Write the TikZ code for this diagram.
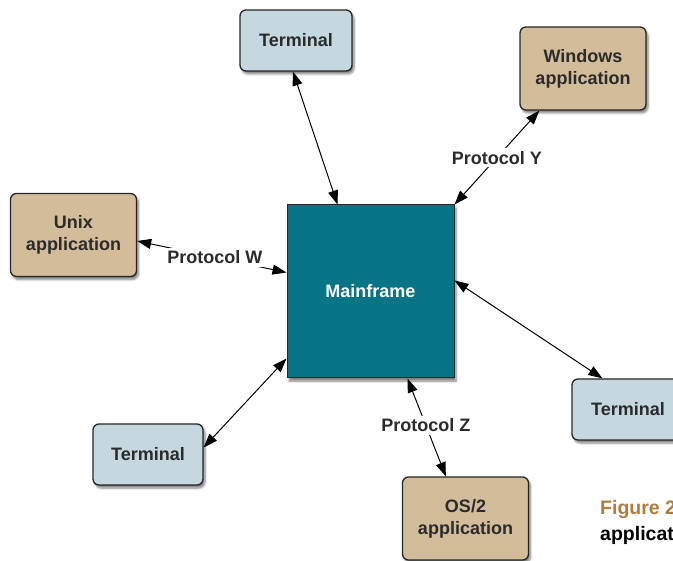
\documentclass[tikz,border=0pt]{standalone}
\usepackage{fontspec}
\setmainfont{Liberation Sans}
\usetikzlibrary{arrows.meta,shadows.blur}
\definecolor{termblue}{HTML}{C5D7DF}
\definecolor{apptan}{HTML}{D3BC9A}
\definecolor{mainteal}{HTML}{087587}
\definecolor{figbrown}{HTML}{B57B3C}
\definecolor{txtgray}{HTML}{2B2B2B}

\begin{document}
\begin{tikzpicture}[x=1pt,y=-1pt,>={Triangle[length=14pt,width=10pt]},
  box/.style={draw=black!85,line width=1.3pt,rounded corners=6pt,align=center,inner sep=0pt,
    font=\fontsize{18}{22}\selectfont\bfseries,text=txtgray,
    blur shadow={shadow xshift=2pt,shadow yshift=-3pt,shadow blur steps=6,shadow opacity=50}},
  term/.style={box,fill=termblue,minimum height=61pt},
  app/.style={box,fill=apptan,minimum width=126pt,minimum height=83pt},
  proto/.style={fill=white,inner sep=3pt,text=txtgray,font=\fontsize{18}{22}\selectfont\bfseries},
  link/.style={<->,line width=1pt}]
\useasboundingbox (0,0) rectangle (673,561);

\node[box,fill=mainteal,rounded corners=0pt,line width=1pt,text=white,
  minimum width=167pt,minimum height=173pt] (main) at (370.5,291.5) {Mainframe};

\node[term,minimum width=112pt] (termN) at (296,40.5) {Terminal};
\node[term,minimum width=110pt] (termSW) at (148,454.5) {Terminal};
\node[term,minimum width=112pt] (termE) at (628,409.5) {Terminal};

\node[app] (win) at (583,68.5) {Windows\\application};
\node[app] (unix) at (73.5,235) {Unix\\application};
\node[app] (os) at (465.5,518.5) {OS/2\\application};

\draw[link] ([xshift=-3pt]termN.south) -- ([xshift=51pt]main.north west);
\draw[link] ([xshift=20pt]win.south west) -- node[proto] (py) {Protocol Y} (main.north east);
\draw[link] ([yshift=-6pt]unix.east) -- node[proto,pos=0.52] (pw) {Protocol W} ([yshift=19pt]main.west);
\draw[link] ([yshift=7pt]termSW.east) -- ([yshift=20pt]main.south west);
\draw[link] ([yshift=11pt]main.east) -- ([xshift=31pt]termE.north west);
\draw[link] ([xshift=121pt]main.south west) -- node[proto,pos=0.48] (pz) {Protocol Z} ([xshift=44pt]os.north west);

\node[anchor=north west,align=left,inner sep=0pt,font=\fontsize{19.5}{26}\selectfont\bfseries]
  (cap) at (600,500) {\textcolor{figbrown}{Figure 2}\\applicat};
\end{tikzpicture}
\end{document}
